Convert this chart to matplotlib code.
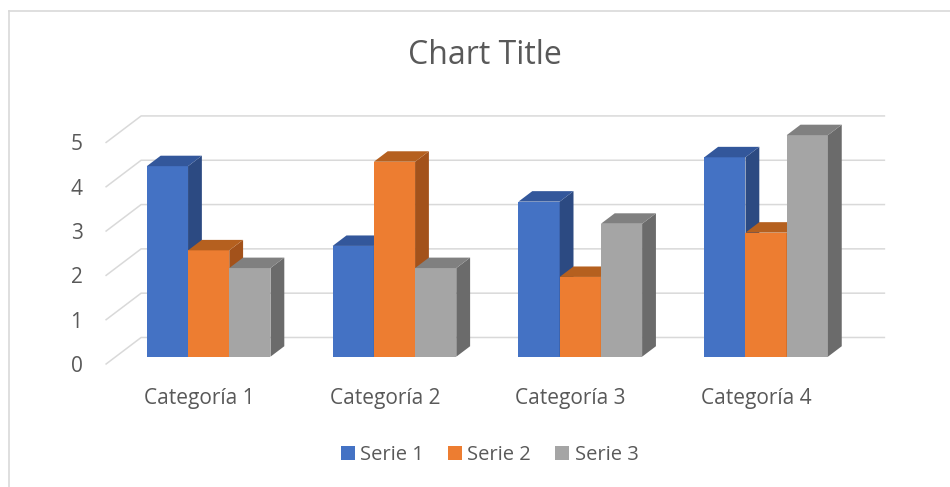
import matplotlib
matplotlib.use('Agg')
import matplotlib.pyplot as plt
from matplotlib.patches import Polygon, Patch
from matplotlib.lines import Line2D

categories = ['Categoría 1', 'Categoría 2', 'Categoría 3', 'Categoría 4']
series_names = ['Serie 1', 'Serie 2', 'Serie 3']
serie1 = [4.3, 2.5, 3.5, 4.5]
serie2 = [2.4, 4.4, 1.8, 2.8]
serie3 = [2, 2, 3, 5]
yticks = [0, 1, 2, 3, 4, 5]

front_colors = ['#4472C4', '#ED7D31', '#A5A5A5']
top_colors = ['#33579B', '#B5601F', '#808080']
side_colors = ['#2C4A82', '#A3521B', '#6B6B6B']
grid_color = '#D9D9D9'
text_color = '#595959'

plt.rcParams['font.family'] = ['Open Sans', 'DejaVu Sans']

fig = plt.figure(figsize=(9.5, 4.87), dpi=100)
ax = fig.add_axes([0.1117, 0.2526, 0.8215, 0.5368])
ax.set_xlim(-0.5, 3.7)
ax.set_ylim(0, 5.9)

# depth of the whole floor, in data units (x, y)
DX, DY = 0.1884, 0.598
t0, t1 = 0.275, 0.67      # front / back of the bars as a fraction of depth
w = 0.2218                # bar width in category units

# back wall gridlines with the slanted left edge
for v in yticks:
    ax.plot([-0.5, -0.5 + DX, 3.5 + DX], [v, v + DY, v + DY],
            color=grid_color, lw=1.1, zorder=0, clip_on=False)

fx, fy = t0 * DX, t0 * DY
bx, by = (t1 - t0) * DX, (t1 - t0) * DY

for k, vals in enumerate([serie1, serie2, serie3]):
    for i, v in enumerate(vals):
        xl = i - 1.5 * w + k * w + fx
        z = 2 + k
        ax.bar(xl, v, width=w, bottom=fy, align='edge',
               color=front_colors[k], zorder=z, linewidth=0)
        top = [(xl, fy + v), (xl + w, fy + v),
               (xl + w + bx, fy + v + by), (xl + bx, fy + v + by)]
        side = [(xl + w, fy), (xl + w + bx, fy + by),
                (xl + w + bx, fy + v + by), (xl + w, fy + v)]
        ax.add_patch(Polygon(side, closed=True, facecolor=side_colors[k],
                             linewidth=0, zorder=z))
        ax.add_patch(Polygon(top, closed=True, facecolor=top_colors[k],
                             linewidth=0, zorder=z))

ax.set_xticks(range(len(categories)))
ax.set_xticklabels(categories)
ax.set_yticks(yticks)
ax.tick_params(axis='x', length=0, pad=17.5, labelsize=15, labelcolor=text_color)
ax.tick_params(axis='y', length=0, pad=17, labelsize=15, labelcolor=text_color)
for lbl in ax.get_yticklabels():
    lbl.set_va('center_baseline')
for s in ax.spines.values():
    s.set_visible(False)
ax.set_facecolor('none')

fig.text(0.5105, 1 - 55 / 487, 'Chart Title', ha='center', va='center',
         fontsize=23, color=text_color)

handles = [Patch(facecolor=c, edgecolor='none') for c in front_colors]
leg = fig.legend(handles, series_names, loc='center', ncol=3,
                 bbox_to_anchor=(489.5 / 950, 1 - 455 / 487), frameon=False,
                 fontsize=14.5, handlelength=0.7, handleheight=0.7,
                 handletextpad=0.26, columnspacing=1.2, labelcolor=text_color)

# chart area border (only left and top visible in the crop)
yb = 1 - 10.5 / 487
xb = 8.5 / 950
fig.add_artist(Line2D([xb, xb], [0, yb], color=grid_color, lw=1.2))
fig.add_artist(Line2D([xb, 1], [yb, yb], color=grid_color, lw=1.2))

fig.savefig('out.png', dpi=100)
